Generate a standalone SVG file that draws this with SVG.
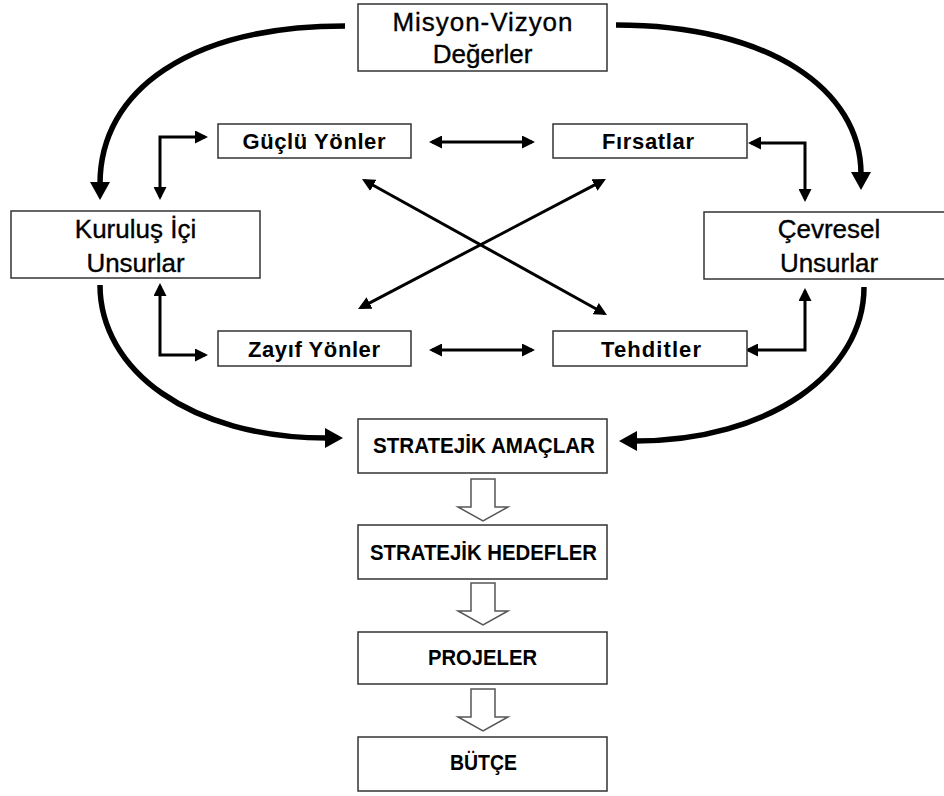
<svg xmlns="http://www.w3.org/2000/svg" width="944" height="796" viewBox="0 0 944 796">
<style>
.box{fill:#fff;stroke:#333;stroke-width:1.5}
.big{font-family:"Liberation Sans",Arial,sans-serif;font-size:26px;fill:#000;stroke:#000;stroke-width:0.35;text-anchor:middle}
.mid{font-family:"Liberation Sans",Arial,sans-serif;font-size:22px;font-weight:bold;fill:#000;text-anchor:middle}
.cap{font-family:"Liberation Sans",Arial,sans-serif;font-size:22px;font-weight:bold;fill:#000;text-anchor:middle}
.thick{fill:none;stroke:#000;stroke-width:5.5}
.thin{fill:none;stroke:#000;stroke-width:3}
.hollow{fill:#fff;stroke:#555;stroke-width:1.5;stroke-linejoin:miter}
</style>
<defs>
<marker id="hb" markerUnits="userSpaceOnUse" markerWidth="18" markerHeight="20" refX="2" refY="10" orient="auto">
<path d="M0,0 L18,10 L0,20 z" fill="#000"/>
</marker>
<marker id="ht" markerUnits="userSpaceOnUse" markerWidth="13" markerHeight="13" refX="10" refY="6.5" orient="auto-start-reverse">
<path d="M0,0 L13,6.5 L0,13 z" fill="#000"/>
</marker>
</defs>
<g id="connectors">
<path class="thick" d="M345,26 C190,26 100,90 100,184" marker-end="url(#hb)"/>
<path class="thick" d="M616,25 C770,25 861,90 861,174" marker-end="url(#hb)"/>
<path class="thick" d="M100,285 C100,370 190,438 327,438" marker-end="url(#hb)"/>
<path class="thick" d="M864,287 C864,372 770,441 635,441" marker-end="url(#hb)"/>
<path class="thin" d="M160,197 L160,137 L205,137" marker-start="url(#ht)" marker-end="url(#ht)"/>
<path class="thin" d="M751,143 L805,143 L805,199" marker-start="url(#ht)" marker-end="url(#ht)"/>
<path class="thin" d="M160,286 L160,355 L205,355" marker-start="url(#ht)" marker-end="url(#ht)"/>
<path class="thin" d="M748,350 L805,350 L805,291" marker-start="url(#ht)" marker-end="url(#ht)"/>
<path class="thin" d="M432,142 L532,142" marker-start="url(#ht)" marker-end="url(#ht)"/>
<path class="thin" d="M432,350 L532,350" marker-start="url(#ht)" marker-end="url(#ht)"/>
<path class="thin" d="M364.6,180.5 L604.4,313.5" marker-start="url(#ht)" marker-end="url(#ht)"/>
<path class="thin" d="M603.3,180.4 L360.7,307.6" marker-start="url(#ht)" marker-end="url(#ht)"/>
<polygon class="hollow" points="471,479 495,479 495,507 508,507 483,521 458,507 471,507"/>
<polygon class="hollow" points="471,583 495,583 495,611 508,611 483,625 458,611 471,611"/>
<polygon class="hollow" points="471,689 495,689 495,717 508,717 483,731 458,717 471,717"/>
</g>
<g id="misyon">
<rect class="box" x="358" y="4" width="249" height="67"/>
<text class="big" x="482.5" y="31" textLength="180" lengthAdjust="spacing">Misyon-Vizyon</text>
<text class="big" x="482.5" y="63">Değerler</text>
</g>
<g id="kurulus">
<rect class="box" x="11" y="211" width="249" height="67"/>
<text class="big" x="135.5" y="238">Kuruluş İçi</text>
<text class="big" x="135.5" y="272">Unsurlar</text>
</g>
<g id="cevresel">
<rect class="box" x="704" y="212" width="252" height="67"/>
<text class="big" x="829" y="238">Çevresel</text>
<text class="big" x="829" y="272">Unsurlar</text>
</g>
<g id="guclu">
<rect class="box" x="218" y="124" width="193" height="34"/>
<text class="mid" x="314" y="149" textLength="143" lengthAdjust="spacing">Güçlü Yönler</text>
</g>
<g id="firsatlar">
<rect class="box" x="553" y="124" width="194" height="34"/>
<text class="mid" x="648" y="149" textLength="92" lengthAdjust="spacing">Fırsatlar</text>
</g>
<g id="zayif">
<rect class="box" x="218" y="331" width="193" height="35"/>
<text class="mid" x="314" y="357" textLength="132" lengthAdjust="spacing">Zayıf Yönler</text>
</g>
<g id="tehditler">
<rect class="box" x="553" y="331" width="194" height="35"/>
<text class="mid" x="651" y="357" textLength="100" lengthAdjust="spacing">Tehditler</text>
</g>
<g id="amaclar">
<rect class="box" x="358" y="419" width="249" height="54"/>
<text class="cap" x="484" y="453" textLength="222" lengthAdjust="spacingAndGlyphs">STRATEJİK AMAÇLAR</text>
</g>
<g id="hedefler">
<rect class="box" x="358" y="525" width="249" height="54"/>
<text class="cap" x="483.5" y="560" textLength="227" lengthAdjust="spacingAndGlyphs">STRATEJİK HEDEFLER</text>
</g>
<g id="projeler">
<rect class="box" x="358" y="632" width="249" height="52"/>
<text class="cap" x="482.5" y="665" textLength="109" lengthAdjust="spacingAndGlyphs">PROJELER</text>
</g>
<g id="butce">
<rect class="box" x="358" y="737" width="249" height="54"/>
<text class="cap" x="483.5" y="770" textLength="67" lengthAdjust="spacingAndGlyphs">BÜTÇE</text>
</g>
</svg>
